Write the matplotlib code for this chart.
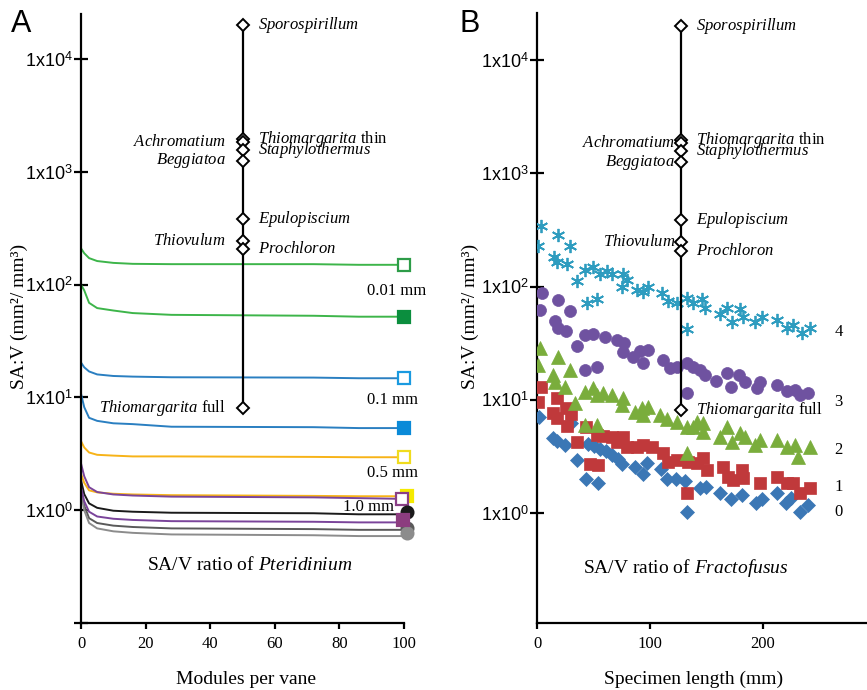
import matplotlib
matplotlib.use('Agg')
import matplotlib.pyplot as plt
from matplotlib.ticker import FixedLocator, NullLocator, FixedFormatter

plt.rcParams['font.family'] = ['Liberation Serif', 'DejaVu Serif']
plt.rcParams['mathtext.fontset'] = 'custom'
plt.rcParams['mathtext.rm'] = 'Liberation Serif'
plt.rcParams['mathtext.it'] = 'Liberation Serif:italic'
plt.rcParams['mathtext.sf'] = 'Liberation Sans'

# ---------------- data ----------------
taxa_names = ['Sporospirillum', 'Thiomargarita thin', 'Achromatium', 'Staphylothermus',
              'Beggiatoa', 'Epulopiscium', 'Thiovulum', 'Prochloron', 'Thiomargarita full']
taxa_values = [20000, 1950, 1850, 1570, 1250, 384, 245, 208, 8.1]
taxa_side = ['R', 'R', 'L', 'R', 'L', 'R', 'L', 'R', 'L']
taxa_x_A = 50
taxa_x_B = 127

# Panel A: Pteridinium SA:V curves vs modules per vane
modules = [0, 1, 2.5, 5, 10, 16, 28, 72, 86, 100]
curve_green_open = [210, 190, 172, 162, 156, 153, 152, 152, 150, 150]
curve_green_fill = [100, 89, 69, 62, 59, 56, 54, 53, 52, 52]
curve_blue_open = [20.4, 18.5, 17, 16, 15.5, 15.3, 15.1, 15.0, 14.8, 14.8]
curve_blue_fill = [10.8, 8.2, 6.6, 6.2, 5.9, 5.8, 5.5, 5.45, 5.35, 5.35]
curve_yellow_open = [4.1, 3.6, 3.25, 3.1, 3.05, 3.0, 3.0, 2.97, 2.95, 2.95]
curve_yellow_fill = [2.1, 1.75, 1.5, 1.44, 1.40, 1.38, 1.36, 1.34, 1.33, 1.33]
curve_purple_open = [2.6, 2.0, 1.6, 1.45, 1.38, 1.35, 1.32, 1.30, 1.28, 1.26]
curve_black = [1.84, 1.39, 1.15, 1.05, 0.99, 0.97, 0.95, 0.94, 0.92, 0.92]
curve_purple_fill = [1.6, 1.2, 0.97, 0.88, 0.84, 0.82, 0.80, 0.79, 0.78, 0.78]
curve_darkgray = [1.55, 1.1, 0.85, 0.77, 0.73, 0.71, 0.69, 0.68, 0.67, 0.67]
curve_lightgray = [1.45, 1.0, 0.77, 0.69, 0.65, 0.63, 0.61, 0.60, 0.59, 0.59]

end_x = [100, 100, 100, 100, 100, 101, 99.4, 101, 101, 101, 99.6]
end_y = [150, 52, 14.8, 5.35, 2.95, 1.33, 1.25, 0.97, 0.70, 0.63, 0.82]

size_labels = ['0.01 mm', '0.1 mm', '0.5 mm', '1.0 mm']
size_label_x = [97.8, 96.4, 96.4, 88.9]
size_label_y = [88, 9.4, 2.13, 1.06]

# Panel B: Fractofusus SA:V vs specimen length
b0_x = [1.8, 14.2, 17.7, 24.8, 30.1, 35.4, 43.4, 54, 45.1, 50.4, 55.8, 61.1, 66.4, 71.7, 75.2,
        86.7, 93.8, 97.3, 109.7, 115, 123, 131, 132.7, 144.2, 149.6, 162, 171.7, 181.4, 193.8,
        199, 212.4, 220.4, 224.8, 232.7, 239.8]
b0_y = [7.1, 4.6, 4.3, 4.0, 6.3, 2.94, 2.0, 1.84, 4.1, 3.9, 3.7, 3.5, 3.26, 3.0, 2.7,
        2.55, 2.2, 2.77, 2.45, 2.0, 2.0, 1.92, 1.02, 1.66, 1.70, 1.50, 1.33, 1.44, 1.23,
        1.33, 1.50, 1.23, 1.36, 1.02, 1.18]

b1_x = [3.5, 0.9, 17.7, 14.2, 17.7, 26.5, 25.7, 30.1, 35.4, 43.4, 46.9, 54, 53.1, 58.4, 66.4,
        70.8, 76.1, 79.6, 88.5, 93.8, 101.8, 111.5, 115.9, 123.9, 132.7, 133.6, 141.6, 146.9,
        150.4, 164.6, 169, 173.5, 181.4, 182.3, 197.3, 212.4, 221.2, 226.5, 232.7, 241.6]
b1_y = [13.0, 9.6, 10.4, 7.7, 6.9, 5.9, 8.5, 7.5, 4.2, 5.7, 2.7, 2.66, 4.9, 4.8, 4.7,
        4.2, 4.7, 3.8, 3.8, 4.0, 3.8, 3.4, 2.83, 2.94, 1.50, 2.83, 2.77, 3.07,
        2.40, 2.55, 2.08, 1.96, 2.40, 2.04, 1.84, 2.08, 1.84, 1.84, 1.50, 1.66]

b2_x = [2.7, 0.9, 18.6, 29.2, 14.2, 15.9, 24.8, 33.6, 42.5, 49.6, 53.1, 58.4, 66.4, 76.1, 75.2,
        86.7, 92.9, 98.2, 93.8, 108.8, 115, 123.9, 132.7, 132.7, 42.5, 53.1, 138, 141.6, 146.9,
        146.9, 162, 168.1, 172.6, 179.6, 184.1, 193, 197.3, 212.4, 221.2, 228.3, 231, 241.6]
b2_y = [28.8, 20.4, 24, 18.4, 16.6, 14.4, 13.0, 9.4, 11.8, 12.8, 11.1, 11.5, 11.1, 10.4, 9.0,
        7.8, 8.5, 8.7, 7.4, 7.4, 6.7, 6.4, 5.8, 3.4, 6.0, 6.0, 5.8, 6.4, 6.3,
        5.2, 4.7, 5.7, 4.2, 5.1, 4.7, 4.0, 4.4, 4.4, 3.8, 4.0, 3.1, 3.8]

b3_x = [4.4, 2.7, 18.6, 29.2, 15.9, 18.6, 25.7, 42.5, 49.6, 60.2, 70.8, 77, 35.4, 76.1, 85,
        91.2, 98.2, 93.8, 42.5, 53.1, 111.5, 117.7, 123.9, 132.7, 138.1, 144.2, 148.7, 132.7,
        158.4, 168.1, 171.7, 178.8, 184.1, 194.7, 197.3, 212.4, 221.2, 228.3, 232.7, 239.8]
b3_y = [88.5, 62.6, 76.7, 61.3, 50, 43.4, 40.8, 37.6, 38.4, 36.1, 34, 31.9, 30.1, 26.6, 24,
        27.2, 27.7, 21.3, 18.4, 19.6, 22.6, 19.2, 19.6, 21.3, 19.6, 18.4, 16.6, 11.5,
        14.7, 17.3, 13.0, 16.6, 14.4, 12.8, 14.4, 13.6, 12.0, 12.3, 11.1, 11.5]

b4_x = [3.3, 0.9, 18.6, 29.2, 15, 17.7, 26.5, 35.4, 44.2, 53.1, 42.5, 49.6, 55.8, 61.9, 66.4,
        76.1, 75.2, 79.6, 88.5, 93.8, 98.2, 110.6, 115.9, 123.9, 132.7, 138, 146, 148.7, 162,
        168, 172.6, 179.6, 182.3, 193, 199, 212.4, 221, 226.5, 234.5, 241.6, 132.7]
b4_y = [340, 226, 288, 226, 184, 166, 157, 111, 72, 77, 141, 150, 128, 136, 128,
        128, 100, 115, 94, 90, 100, 88, 74, 72, 80, 72, 77, 65, 57,
        65, 49, 63, 54, 49, 54, 51, 43, 46, 39, 43, 42]

series_labels = ['0', '1', '2', '3', '4']
series_label_y = [1.02, 1.7, 3.6, 9.6, 40]
series_label_x = 267

yticks = [0.1, 1, 10, 100, 1000, 10000]
ytick_labels = ['', '1x10$^{\\mathsf{0}}$', '1x10$^{\\mathsf{1}}$', '1x10$^{\\mathsf{2}}$',
                '1x10$^{\\mathsf{3}}$', '1x10$^{\\mathsf{4}}$']

# ---------------- figure ----------------
W, H = 867, 690
fig = plt.figure(figsize=(W / 100, H / 100), dpi=100)

axA = fig.add_axes([81 / W, 67 / H, 323 / W, 609 / H])
axB = fig.add_axes([537 / W, 67 / H, 330 / W, 610 / H])


def style_axis(ax, ylim, xlim, xticks, yt, ytl):
    ax.set_yscale('log')
    ax.set_ylim(*ylim)
    ax.set_xlim(*xlim)
    for s in ['top', 'right']:
        ax.spines[s].set_visible(False)
    for s in ['left', 'bottom']:
        ax.spines[s].set_linewidth(1.6)
    ax.yaxis.set_major_locator(FixedLocator(yt))
    ax.yaxis.set_major_formatter(FixedFormatter(ytl))
    ax.yaxis.set_minor_locator(NullLocator())
    ax.set_xticks(xticks)
    ax.set_xticklabels([str(t) for t in xticks])
    ax.tick_params(axis='y', direction='inout', length=9.5, width=1.6, pad=1,
                   labelsize=13)
    for lab in ax.get_yticklabels():
        lab.set_family('Liberation Sans')
    ax.tick_params(axis='x', direction='out', length=4, width=1.6, pad=5,
                   labelsize=12)


style_axis(axA, (0.1, 10 ** 4.40), (0, 100), [0, 20, 40, 60, 80, 100], yticks, ytick_labels)
style_axis(axB, (0.107, 10 ** 4.415), (0, 292), [0, 100, 200], yticks[1:], ytick_labels[1:])

# ---- Panel A curves ----
curves = [
    (curve_green_open, '#3db54a'), (curve_green_fill, '#3db54a'),
    (curve_blue_open, '#2a7fc1'), (curve_blue_fill, '#2a7fc1'),
    (curve_yellow_open, '#f7b318'), (curve_yellow_fill, '#f7b318'),
    (curve_purple_open, '#7a449a'), (curve_black, '#1a1a1a'),
    (curve_darkgray, '#5a5a5a'), (curve_lightgray, '#8c8c8c'),
    (curve_purple_fill, '#7a449a'),
]
for vals, col in curves:
    axA.plot(modules, vals, color=col, lw=1.4, zorder=2)

end_styles = [
    ('s', 'white', '#2d9c48'), ('s', '#0b8e3e', '#0b8e3e'),
    ('s', 'white', '#1a9ae0'), ('s', '#0a8ad8', '#0a8ad8'),
    ('s', 'white', '#f0dc1e'), ('s', '#f5ea00', '#f5ea00'),
    ('s', 'white', '#8a3f86'), ('o', '#1a1a1a', '#1a1a1a'),
    ('o', '#5a5a5a', '#5a5a5a'), ('o', '#8c8c8c', '#8c8c8c'),
    ('s', '#8c3d7f', '#8c3d7f'),
]
for i, (m, fc, ec) in enumerate(end_styles):
    axA.plot([end_x[i]], [end_y[i]], marker=m, ms=8.5, mfc=fc, mec=ec, mew=1.6,
             linestyle='none', clip_on=False, zorder=4 + i * 0.01)

for lab, x, y in zip(size_labels, size_label_x, size_label_y):
    axA.text(x, y, lab, fontsize=12, ha='center', va='center', zorder=5)

axA.text(52.3, 0.33, 'SA/V ratio of $\\mathit{Pteridinium}$', fontsize=14,
         ha='center', va='center')


def taxa_text(name):
    if name.startswith('Thiomargarita'):
        return '$\\mathit{Thiomargarita}$ ' + name.split(' ')[1]
    return '$\\mathit{' + name + '}$'


def draw_taxa(ax, xpos, sides, loff, roff):
    ax.plot([xpos, xpos], [min(taxa_values), max(taxa_values)], color='black', lw=1.6,
            zorder=6, clip_on=False)
    ax.plot([xpos] * len(taxa_values), taxa_values, marker='D', ms=6.5, mfc='white',
            mec='black', mew=1.4, linestyle='none', zorder=7, clip_on=False)
    for name, v, side in zip(taxa_names, taxa_values, sides):
        if side == 'R':
            ax.annotate(taxa_text(name), (xpos, v), xytext=(roff, 0),
                        textcoords='offset points', ha='left', va='center',
                        fontsize=12, zorder=8)
        else:
            ax.annotate(taxa_text(name), (xpos, v), xytext=(loff, 0),
                        textcoords='offset points', ha='right', va='center',
                        fontsize=12, zorder=8)


draw_taxa(axA, taxa_x_A, taxa_side, -12, 11.5)
sides_B = taxa_side[:-1] + ['R']
draw_taxa(axB, taxa_x_B, sides_B, -4, 11)

# ---- Panel B scatter ----
axB.plot(b0_x, b0_y, 'D', ms=7.2, mfc='#3b77b5', mec='#3b77b5', mew=0.5,
         linestyle='none', zorder=3)
axB.plot(b1_x, b1_y, 's', ms=8.8, mfc='#c0393b', mec='#c0393b', mew=0.5,
         linestyle='none', zorder=3)
axB.plot(b2_x, b2_y, '^', ms=10, mfc='#7aad3c', mec='#7aad3c', mew=0.5,
         linestyle='none', zorder=3)
axB.plot(b3_x, b3_y, 'o', ms=8.6, mfc='#6f52a0', mec='#6f52a0', mew=0.5,
         linestyle='none', zorder=3)
axB.plot(b4_x, b4_y, marker=(6, 2, 0), ms=9.5, mec='#2e9cbf', mew=1.3,
         linestyle='none', zorder=3)

for lab, y in zip(series_labels, series_label_y):
    axB.text(series_label_x, y, lab, fontsize=12, ha='center', va='center')

axB.text(132, 0.327, 'SA/V ratio of $\\mathit{Fractofusus}$', fontsize=14,
         ha='center', va='center')

# ---- axis labels and panel letters ----
fig.text(246 / W, 1 - 679 / H, 'Modules per vane', fontsize=14, ha='center', va='center')
fig.text(694 / W, 1 - 679 / H, 'Specimen length (mm)', fontsize=14, ha='center', va='center')
ylab = 'SA:V (mm\u00b2/ mm\u00b3)'
fig.text(19 / W, 1 - 316 / H, ylab, fontsize=14, rotation=90, ha='center', va='center')
fig.text(470 / W, 1 - 316 / H, ylab, fontsize=14, rotation=90, ha='center', va='center')
fig.text(11 / W, 1 - 24 / H, 'A', fontsize=22, family='Liberation Sans', ha='left', va='center')
fig.text(460 / W, 1 - 24 / H, 'B', fontsize=22, family='Liberation Sans', ha='left', va='center')

fig.savefig('out.png', dpi=100)
